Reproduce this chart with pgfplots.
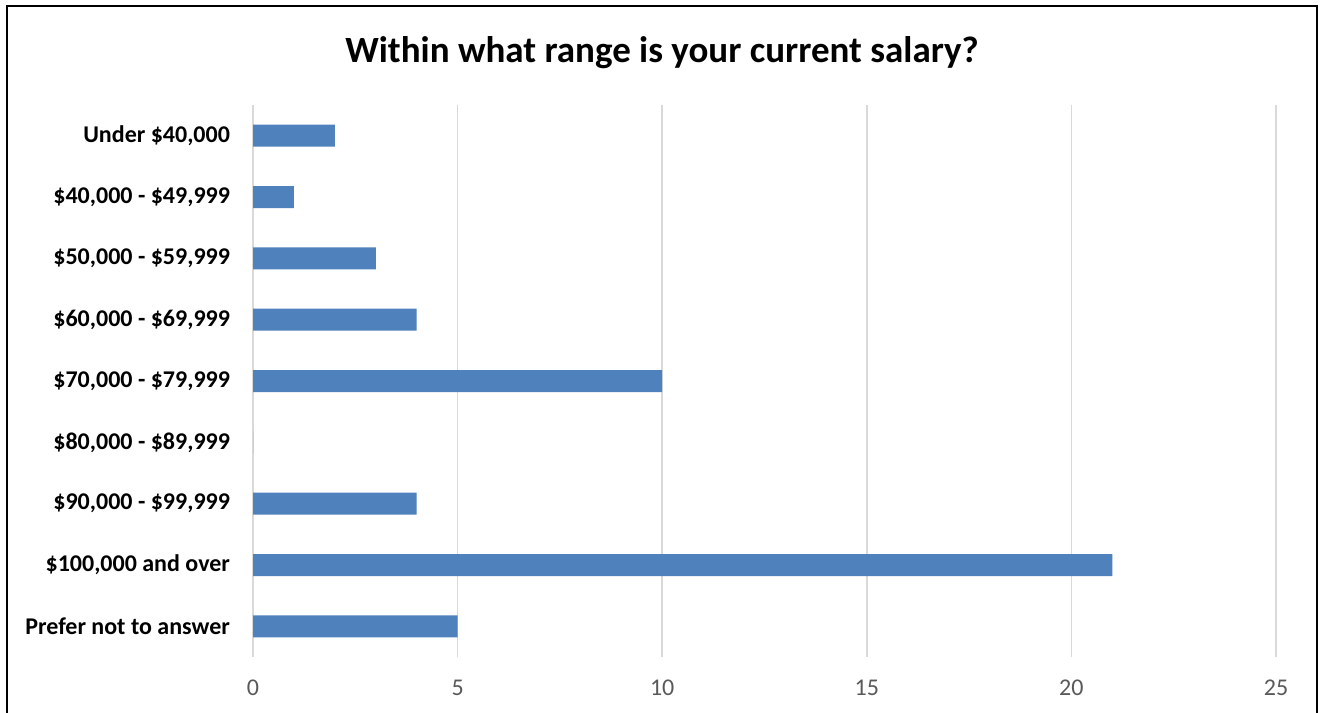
\documentclass[border=0pt]{standalone}
\usepackage{pgfplots}
\pgfplotsset{compat=1.18}
\usepackage{fontspec}
\setmainfont{Carlito}
\definecolor{barblue}{HTML}{4F81BD}
\definecolor{gridgray}{HTML}{D9D9D9}
\definecolor{ticktext}{HTML}{595959}
\begin{document}
\begin{tikzpicture}
\path[use as bounding box] (0,0) rectangle (660bp,356.5bp);
\fill[white] (0,0) rectangle (660bp,356.5bp);
\draw[black,line width=1bp] (3.5bp,0) -- (3.5bp,353.5bp) -- (658.5bp,353.5bp) -- (658.5bp,0);
\node[font=\fontsize{18.5bp}{22bp}\selectfont\bfseries] at (331bp,330bp) {Within what range is your current salary?};
\begin{axis}[
  at={(126.5bp,28bp)}, anchor=south west,
  scale only axis, width=511.5bp, height=276bp,
  xbar, bar width=11bp,
  xmin=0, xmax=25, xtick={0,5,10,15,20,25},
  ymin=-0.5, ymax=8.5, y dir=reverse,
  ytick={0,1,2,3,4,5,6,7,8},
  yticklabels={{Under \$40,000},{\$40,000 - \$49,999},{\$50,000 - \$59,999},{\$60,000 - \$69,999},{\$70,000 - \$79,999},{\$80,000 - \$89,999},{\$90,000 - \$99,999},{\$100,000 and over},{Prefer not to answer}},
  axis line style={draw=none},
  major tick length=0pt,
  xmajorgrids, major grid style={gridgray,line width=0.75bp},
  /pgf/number format/assume math mode=true,
  xticklabel style={font=\fontsize{12bp}{14bp}\selectfont, text=ticktext, yshift=-8bp},
  yticklabel style={font=\fontsize{12bp}{14bp}\selectfont\bfseries, text=black, xshift=-8bp},
]
\addplot[fill=barblue, draw=none] coordinates {(2,0) (1,1) (3,2) (4,3) (10,4) (0,5) (4,6) (21,7) (5,8)};
\end{axis}
\end{tikzpicture}
\end{document}
